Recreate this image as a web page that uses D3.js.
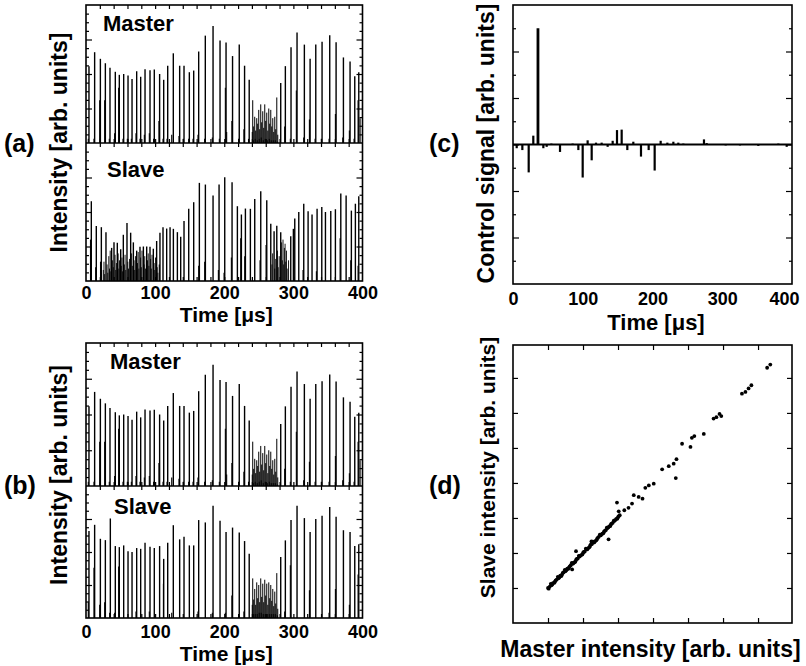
<!DOCTYPE html>
<html><head><meta charset="utf-8">
<script src="https://cdn.jsdelivr.net/npm/d3@7"></script>
<style>
body{margin:0;background:#fff}
svg{display:block}
text{font-family:"Liberation Sans",Arial,Helvetica,sans-serif;font-weight:bold;fill:#000}
</style></head><body>
<svg id="c" width="806" height="666"></svg>
<script>
// ---------------- DATA ----------------
const timeTicks = [0, 100, 200, 300, 400];
// Master intensity pulses [time µs, intensity %]
const masterPeaks = [[4.3,55.7],[12.5,65.8],[20.8,61],[28,57.8],[34.7,54.5],[42.4,51.6],[48.2,49.4],[54.5,50],[60.8,49],[66.6,46.3],[73.3,52],[79.1,48],[85.4,53.5],[92.6,52.8],[98.8,53.3],[106.5,50],[112.4,45.8],[118.2,56],[126.3,65],[135.5,56],[141.8,56],[149.5,51.3],[155.8,52.5],[163,66.3],[172.6,77.8],[183.8,84.8],[193.9,74.2],[202.6,72.8],[212,63],[221.7,71.3],[229.4,56],[236.1,45.8],[281.7,43.4],[288.4,55.7],[296.6,69.4],[305.3,80],[315.9,71.3],[324.2,61],[332.4,71.3],[341.5,73.3],[352.6,78],[361.8,73],[372.4,62],[382,59],[388.8,48.4],[394.6,51.3]];
const masterSecondary = [[19.8,31],[27,31],[41.4,7],[47.2,40],[72.3,7],[84.4,6],[91.6,7],[105.5,16],[124,6],[134.5,5],[162,6],[201.6,40],[203.5,8],[211,16],[228.4,10],[287.4,12],[304.3,38],[323.2,17],[360.8,21],[381,9],[393.6,31],[396.5,18],[3.3,3],[11.5,3],[33.7,3],[53.5,3],[59.8,3],[65.6,3],[78.1,3],[97.8,3],[111.4,3],[117.2,3],[140.8,3],[148.5,3],[154.8,3],[171.6,3],[182.8,4],[192.9,3],[220.7,3],[235.1,3],[295.6,3],[314.9,4],[331.4,3],[340.5,3],[351.6,3],[371.4,4],[387.8,3]];
const masterChaos = [[240.5,8],[241.2,31],[242,2],[242.6,12],[244.1,19],[244.8,3],[245.5,9],[247,18],[247.7,2],[248.4,14],[249.9,24],[250.6,3],[251.3,10],[252.8,28],[253.5,4],[254.2,15],[255.7,23],[256.4,2],[257.1,11],[258.6,28],[259.3,3],[260,16],[261.5,22],[262.2,2],[263,9],[264.4,25],[265.1,3],[265.8,14],[267.3,24],[268,2],[268.7,12],[270.2,18],[270.9,2],[271.6,8],[273.1,19],[273.8,2],[274.5,10],[276,33],[276.8,1],[277.4,6]];
// Slave (uncontrolled, panel a)
const slaveAPeaks = [[7.7,57.8],[14.9,39.8],[22.2,39],[28.9,35.4],[37.1,24],[40.5,28],[45.3,27.7],[50.2,23],[54,33.5],[59.3,42],[64.6,35],[68.5,28],[73.3,22],[78.1,24.8],[83,25],[87.8,25],[92.6,24.8],[97.4,23.4],[102.2,29],[107,35],[111.4,39],[116.7,38],[121.6,39],[126.4,37.8],[132.2,35.4],[137,32],[141.8,43.4],[148.6,52.3],[155.8,57.1],[164,71.1],[172.7,69.9],[183.8,62],[192.5,69.9],[200.7,75.2],[211.3,71.6],[219,54.2],[224.8,48.2],[230.6,52.5],[237.8,52.3],[244.1,59.5],[252.8,65],[261.5,58.5],[267.3,41.4],[272.1,36],[276,40],[281.7,35.4],[296.2,32.5],[300,37.8],[302,45.3],[307.8,50],[315,56],[321.3,50.6],[327,48.2],[334.3,52.3],[341.1,53.7],[346.4,50],[354.1,50.8],[360.8,52],[368.6,63.4],[376.3,62],[383.9,51],[389.7,56],[394.6,61.4]];
const slaveASecondary = [[6.5,30],[14,10],[21,14],[106,12],[163,11],[171.7,14],[191.5,8],[199.7,6],[210.3,17],[223.8,31],[229.6,18],[251.8,15],[260.5,26],[314,8],[333.3,7],[367.6,31],[383,15],[393.6,11]];
const slaveAChaos = [[25,8],[26,14],[27,5],[30.5,12],[31.5,6],[33,18],[34,9],[35,22],[36,7],[38.5,15],[39.5,10],[42,19],[43,8],[44,13],[46.5,20],[47.5,9],[48.5,15],[51,11],[52,17],[53,7],[55.5,12],[56.5,19],[57.5,8],[60.5,14],[61.5,9],[63,16],[66,20],[67,11],[69.5,15],[70.5,8],[71.5,18],[74.5,13],[75.5,21],[76.5,9],[79,17],[80,10],[81,22],[84,12],[85,18],[86,9],[89,15],[90,20],[91,11],[93.5,16],[94.5,9],[95.5,19],[98.5,13],[99.5,8],[100.5,17],[103,10],[104,6],[269,12],[270,20],[273,9],[274.5,16],[277,22],[278,10],[279.5,18],[283,28],[284,15],[285,30],[286,12],[287,24],[288,27],[289,14],[290,22],[291,9],[293,15]];
// Slave (controlled, panel b)
const slaveBPeaks = [[4.3,66],[12.5,70.6],[20.8,60],[28,59],[35.2,75.4],[42.4,54.5],[48.2,53.7],[54.5,55],[60.8,50.6],[66.6,50],[73.3,53],[79.1,52.4],[85.4,57],[92.6,54],[98.8,53],[106.5,54.5],[112.4,44.8],[118.2,57],[126.3,70.3],[135.5,59.6],[141.8,61.6],[149.5,55],[155.8,55],[163,74.2],[172.6,72.4],[183.8,85],[193.9,73.7],[202.6,65.2],[212,68.5],[221.7,64.7],[229.4,58.3],[236.1,48.6],[281.7,46.3],[288.4,58.8],[296.6,74.2],[305.3,85],[315.9,75.7],[324.2,65.2],[332.4,75],[341.5,77.5],[352.6,84],[361.8,76.7],[372.4,66.5],[382,65.2],[388.8,54.5],[394.6,55.8]];
const slaveBSecondary = [[3.3,12],[11.5,38],[19.8,10],[27,12],[34.2,4],[47.2,39],[112,26],[201.6,4],[211,17],[295.6,40],[323.2,21],[360.8,22],[381,10],[393.6,33],[41.4,4],[72.3,5],[91.6,5],[124,4],[162,5],[182.8,4],[228.4,5],[287.4,5],[351.6,4]];
const slaveBChaos = [[240.5,10],[241.2,30],[242,3],[242.6,14],[244.1,22],[244.8,3],[245.5,10],[247,27],[247.7,3],[248.4,15],[249.9,25],[250.6,4],[251.3,12],[252.8,30],[253.5,4],[254.2,16],[255.7,26],[256.4,3],[257.1,12],[258.6,29],[259.3,3],[260,17],[261.5,26],[262.2,3],[263,10],[264.4,27],[265.1,3],[265.8,15],[267.3,25],[268,3],[268.7,13],[270.2,22],[270.9,3],[271.6,9],[273.1,20],[273.8,3],[274.5,11],[276,34],[276.8,2],[277.4,7]];
// Control signal [time µs, value]
const controlSignal = [[5.3,-0.08],[13.4,-0.12],[22.5,-0.6],[29.1,0.19],[35.8,2.5],[43.5,-0.08],[48.3,-0.05],[55,0.02],[67.4,-0.16],[85.5,0.02],[93.7,-0.12],[99.9,-0.71],[107,0.09],[112.8,-0.34],[119,0.04],[127.1,0.04],[135.7,-0.05],[142.9,0.08],[149.1,0.31],[155.8,0.32],[163.9,-0.12],[172.5,0.06],[183.5,-0.26],[194.5,-0.12],[203.1,-0.56],[211.7,0.08],[221.3,0.04],[229.9,0.06],[237,0.04],[244.2,0.02],[273.8,0.11],[277.7,0.03],[304.9,-0.02],[325.4,-0.02],[351.7,-0.03],[380.4,0.02],[392.4,-0.05]];
// Scatter: [master intensity, slave intensity]
const scatterPoints = [[1.00,1.00],[1.05,1.04],[1.10,1.08],[1.14,1.14],[1.20,1.18],[1.25,1.24],[1.30,1.28],[1.35,1.35],[1.40,1.38],[1.45,1.45],[1.50,1.48],[1.55,1.55],[1.60,1.58],[1.65,1.65],[1.70,1.70],[1.75,1.73],[1.80,1.80],[1.85,1.84],[1.90,1.90],[1.95,1.94],[2.00,2.00],[2.05,2.04],[2.10,2.11],[2.15,2.14],[2.20,2.20],[2.25,2.25],[2.30,2.30],[2.35,2.34],[2.40,2.40],[2.45,2.46],[2.50,2.50],[2.55,2.55],[2.60,2.61],[2.65,2.65],[2.70,2.71],[2.75,2.76],[2.80,2.82],[2.85,2.86],[2.90,2.92],[2.95,2.97],[3.00,3.02],[3.05,3.08],[1.02,0.98],[1.12,1.10],[1.22,1.22],[1.32,1.30],[1.42,1.43],[1.52,1.51],[1.62,1.62],[1.72,1.70],[1.82,1.83],[1.92,1.92],[2.02,2.03],[2.12,2.10],[2.22,2.24],[2.32,2.30],[2.42,2.43],[2.52,2.52],[2.62,2.63],[2.72,2.73],[2.82,2.84],[2.92,2.94],[3.02,3.05],
[1.08,1.12],[1.18,1.15],[1.28,1.32],[1.38,1.34],[1.48,1.52],[1.58,1.55],[1.68,1.72],[1.78,1.75],[1.88,1.92],[1.98,1.96],[2.08,2.12],[2.18,2.16],[2.28,2.32],[2.38,2.36],[2.48,2.52],[2.58,2.56],[2.68,2.72],[2.78,2.77],[2.88,2.92],[2.98,2.98],
[1.80,2.05],[1.69,1.53],[2.24,2.33],[2.73,2.39],[2.97,3.44],[3.02,3.19],[3.18,3.22],[3.30,3.29],[3.40,3.41],[3.45,3.65],[3.59,3.60],[3.70,3.55],[3.78,3.86],[3.88,3.93],[4.02,3.98],[4.26,4.39],[4.45,4.48],[4.59,4.55],[4.67,4.68],[4.65,4.14],[4.83,5.12],[5.07,5.03],[5.11,5.29],[5.18,5.34],[5.45,5.40],[5.73,5.84],[5.81,5.88],[5.90,5.97],[5.95,5.91],[6.54,6.55],[6.64,6.60],[6.73,6.70],[6.81,6.79],[7.26,7.29],[7.35,7.38]];
const scatterTicks = [1,2,3,4,5,6,7];

// ---------------- DRAWING ----------------
const svg = d3.select("#c");
const FONT = '"Liberation Sans",Arial,Helvetica,sans-serif';

function styleAxis(g, size) {
  g.select(".domain").remove();
  g.selectAll("line").attr("stroke", "#000").attr("stroke-width", 1.2);
  g.attr("font-family", FONT).attr("font-size", size).attr("font-weight", "bold");
  g.selectAll("text").attr("fill", "#000");
}

function addAxis(axis, tx, ty, size) {
  const g = svg.append("g").attr("transform", `translate(${tx},${ty})`).call(axis);
  styleAxis(g, size || 10);
  return g;
}

function frame(x0, y0, x1, y1) {
  svg.append("rect").attr("x", x0).attr("y", y0).attr("width", x1 - x0).attr("height", y1 - y0)
    .attr("fill", "none").attr("stroke", "#000").attr("stroke-width", 1.6);
}

function spikes(x, y, data, w) {
  svg.append("g").selectAll("line").data(data).join("line")
    .attr("x1", d => x(d[0])).attr("x2", d => x(d[0]))
    .attr("y1", y(0)).attr("y2", d => y(d[1]))
    .attr("stroke", "#000").attr("stroke-width", w);
}

function intensityTicks(x, y, x0, x1, yTopPix, yBotPix) {
  const minor = d3.range(0, 100.1, 6.25).filter(v => v % 25 !== 0);
  const major = [25, 50, 75];
  addAxis(d3.axisLeft(y).tickValues(minor).tickSize(-3).tickFormat(""), x0, 0);
  addAxis(d3.axisLeft(y).tickValues(major).tickSize(-6).tickFormat(""), x0, 0);
  addAxis(d3.axisRight(y).tickValues(minor).tickSize(-3).tickFormat(""), x1, 0);
  addAxis(d3.axisRight(y).tickValues(major).tickSize(-6).tickFormat(""), x1, 0);
  const tMinor = d3.range(20, 400, 20);
  addAxis(d3.axisTop(x).tickValues(tMinor).tickSize(-4).tickFormat(""), 0, yTopPix);
  addAxis(d3.axisBottom(x).tickValues(tMinor).tickSize(-4).tickFormat(""), 0, yBotPix);
}

function intensityPanel(x0, x1, yTop, yMid, yBot, master, slave, labelPad, labelTimeY, labels) {
  const x = d3.scaleLinear().domain([0, 400]).range([x0, x1]);
  const yM = d3.scaleLinear().domain([0, 100]).range([yMid, yTop]);
  const yS = d3.scaleLinear().domain([0, 100]).range([yBot, yMid]);
  master.forEach(s => spikes(x, yM, s.data, s.w));
  slave.forEach(s => spikes(x, yS, s.data, s.w));
  intensityTicks(x, yM, x0, x1, yTop, yMid);
  intensityTicks(x, yS, x0, x1, yMid, yBot);
  frame(x0, yTop, x1, yBot);
  svg.append("line").attr("x1", x0).attr("x2", x1).attr("y1", yMid).attr("y2", yMid)
    .attr("stroke", "#000").attr("stroke-width", 1.6);
  addAxis(d3.axisBottom(x).tickValues(timeTicks).tickSize(0).tickPadding(labelPad).tickFormat(d3.format("d")), 0, yBot, 18);
  svg.append("text").attr("x", (x0 + x1) / 2 + 2).attr("y", labelTimeY).attr("text-anchor", "middle")
    .attr("font-size", 21).text("Time [μs]");
  svg.append("text").attr("x", labels.mx).attr("y", labels.my).attr("font-size", 22).text("Master");
  svg.append("text").attr("x", labels.sx).attr("y", labels.sy).attr("font-size", 22).text("Slave");
}

// Panel (a)
intensityPanel(86, 362.5, 5, 143, 281,
  [{data: masterSecondary, w: 1.1}, {data: masterChaos, w: 1.0}, {data: masterPeaks, w: 1.4}],
  [{data: slaveASecondary, w: 1.1}, {data: slaveAChaos, w: 0.9}, {data: slaveAPeaks, w: 1.4}],
  5, 322, {mx: 103, my: 31, sx: 107, sy: 177});
// Panel (b)
intensityPanel(86, 362.5, 343, 486, 618,
  [{data: masterSecondary, w: 1.1}, {data: masterChaos, w: 1.0}, {data: masterPeaks, w: 1.4}],
  [{data: slaveBSecondary, w: 1.1}, {data: slaveBChaos, w: 1.0}, {data: slaveBPeaks, w: 1.4}],
  7, 661, {mx: 110, my: 369, sx: 114, sy: 514});

// y labels (a), (b)
function vLabel(x, y, txt, size) {
  svg.append("text").attr("transform", `translate(${x},${y}) rotate(-90)`).attr("text-anchor", "middle")
    .attr("font-size", size).text(txt);
}
vLabel(67, 142.5, "Intensity [arb. units]", 23);
vLabel(67, 475, "Intensity [arb. units]", 23);

// Panel (c)
{
  const x0 = 513, x1 = 792, yT = 5, yB = 284;
  const x = d3.scaleLinear().domain([0, 400]).range([x0, x1]);
  const y = d3.scaleLinear().domain([-3, 3]).range([yB, yT]);
  svg.append("g").selectAll("rect").data(controlSignal).join("rect")
    .attr("x", d => x(d[0]) - (Math.abs(d[1]) > 2 ? 1.4 : 1.1))
    .attr("width", d => Math.abs(d[1]) > 2 ? 2.8 : 2.2)
    .attr("y", d => Math.min(y(0), y(d[1])))
    .attr("height", d => Math.abs(y(d[1]) - y(0)))
    .attr("fill", "#000");
  svg.append("line").attr("x1", x0).attr("x2", x1).attr("y1", y(0)).attr("y2", y(0))
    .attr("stroke", "#000").attr("stroke-width", 1.8);
  const minor = [-2.5, -1.5, -0.5, 0.5, 1.5, 2.5];
  const major = [-2, -1, 0, 1, 2];
  addAxis(d3.axisLeft(y).tickValues(minor).tickSize(-3).tickFormat(""), x0, 0);
  addAxis(d3.axisLeft(y).tickValues(major).tickSize(-6).tickFormat(""), x0, 0);
  addAxis(d3.axisRight(y).tickValues(minor).tickSize(-3).tickFormat(""), x1, 0);
  addAxis(d3.axisRight(y).tickValues(major).tickSize(-6).tickFormat(""), x1, 0);
  frame(x0, yT, x1, yB);
  const gx = addAxis(d3.axisBottom(x).tickValues(timeTicks).tickSize(0).tickPadding(8).tickFormat(d3.format("d")), 0, yB, 18);
  gx.selectAll("text").filter(d => d === 400).attr("dx", -8);
  svg.append("text").attr("x", 656).attr("y", 330).attr("text-anchor", "middle").attr("font-size", 22).text("Time [μs]");
  vLabel(494, 143.5, "Control signal [arb. units]", 23);
}

// Panel (d)
{
  const x0 = 513, x1 = 792, yT = 345, yB = 623;
  const x = d3.scaleLinear().domain([0, 7.97]).range([x0, x1]);
  const y = d3.scaleLinear().domain([0, 7.94]).range([yB, yT]);
  addAxis(d3.axisTop(x).tickValues(scatterTicks).tickSize(-5).tickFormat(""), 0, yT);
  addAxis(d3.axisBottom(x).tickValues(scatterTicks).tickSize(-5).tickFormat(""), 0, yB);
  addAxis(d3.axisLeft(y).tickValues(scatterTicks).tickSize(-5).tickFormat(""), x0, 0);
  addAxis(d3.axisRight(y).tickValues(scatterTicks).tickSize(-5).tickFormat(""), x1, 0);
  svg.append("g").selectAll("circle").data(scatterPoints).join("circle")
    .attr("cx", d => x(d[0])).attr("cy", d => y(d[1])).attr("r", 1.9).attr("fill", "#000");
  frame(x0, yT, x1, yB);
  svg.append("text").attr("x", 650.5).attr("y", 657).attr("text-anchor", "middle").attr("font-size", 23)
    .text("Master intensity [arb. units]");
  vLabel(495, 467.5, "Slave intensity [arb. units]", 21);
}

// Panel letters
[["(a)", 4, 152], ["(b)", 4, 494], ["(c)", 429, 152], ["(d)", 429, 494]].forEach(d => {
  svg.append("text").attr("x", d[1]).attr("y", d[2]).attr("font-size", 25).text(d[0]);
});
</script></body></html>
